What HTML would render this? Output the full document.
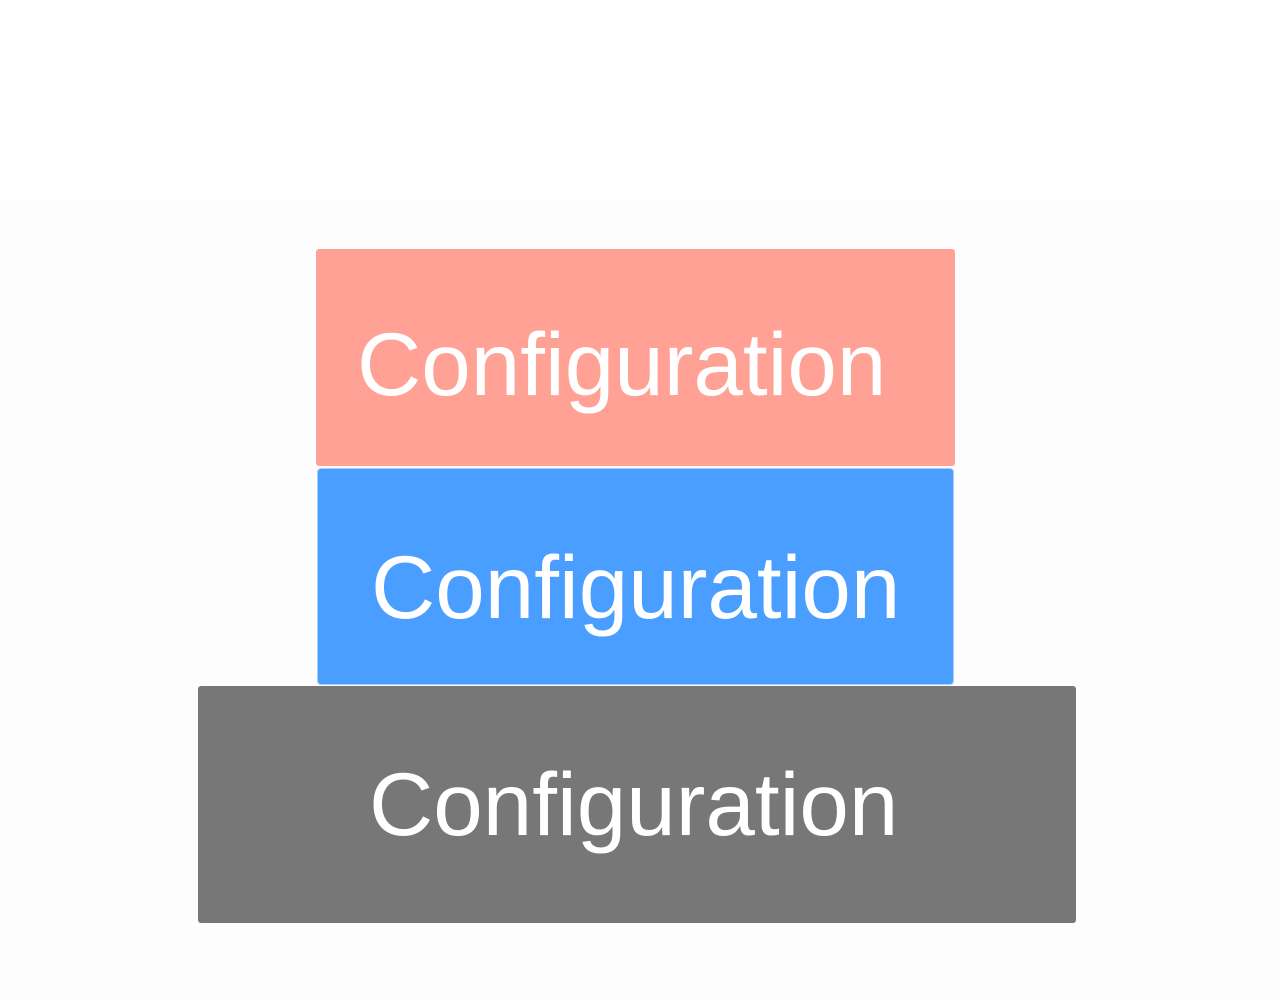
<!DOCTYPE html>
<html><head><meta charset="utf-8"><style>
html,body{margin:0;padding:0}
body{width:1280px;height:1000px;position:relative;background:#fdfdfd;overflow:hidden;font-family:"Liberation Sans",Arial,sans-serif}
.top{position:absolute;left:0;top:0;width:1280px;height:200px;background:#fff}
.b{position:absolute;border-radius:3px}
.t{position:absolute;color:#fff;font-size:89px;line-height:89px;white-space:nowrap}
</style></head><body>
<div class="top"></div>
<div class="b" style="left:316px;top:249px;width:639px;height:217px;background:#ffa295"></div>
<div class="b" style="left:318px;top:469px;width:635px;height:215px;background:#4a9eff;box-shadow:0 0 0 1px #a9cdf7"></div>
<div class="b" style="left:198px;top:686px;width:878px;height:237px;background:#777777"></div>
<div class="t" style="left:357px;top:320px">Configuration</div>
<div class="t" style="left:371px;top:543px">Configuration</div>
<div class="t" style="left:369px;top:760px">Configuration</div>
</body></html>
